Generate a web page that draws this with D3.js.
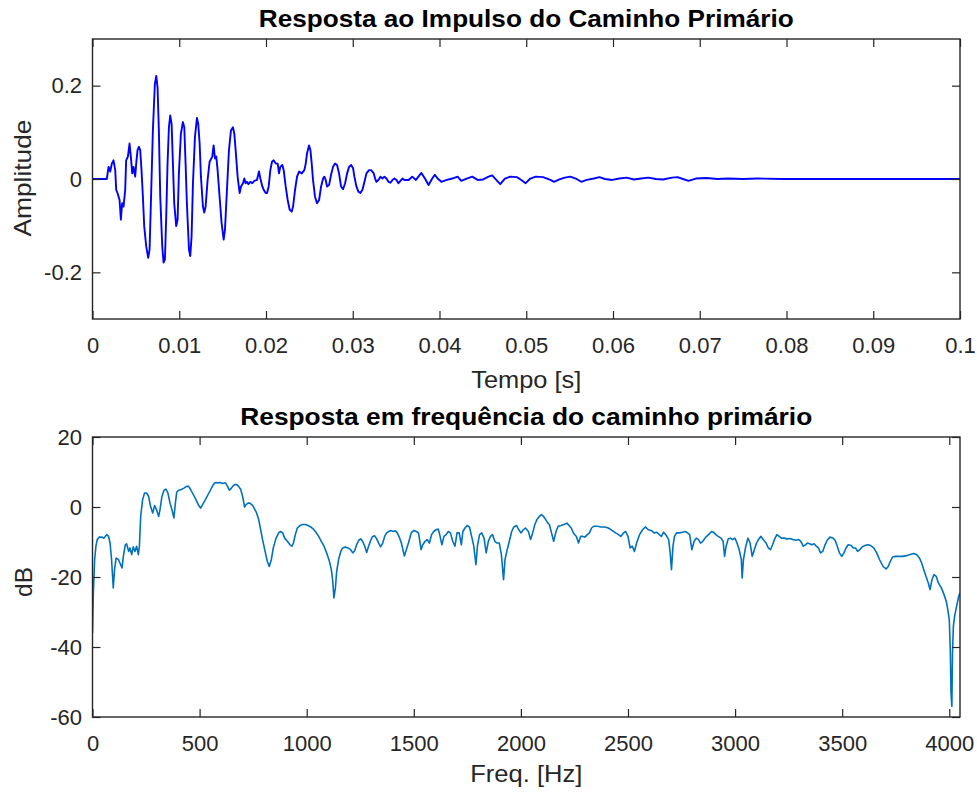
<!DOCTYPE html>
<html>
<head>
<meta charset="utf-8">
<script src="https://cdn.jsdelivr.net/npm/d3@7"></script>
<style>
  body { margin: 0; background: #fff; }
  svg { display: block; background: #fff; }
  text { font-family: "Liberation Sans", Arial, Helvetica, sans-serif; }
</style>
</head>
<body>
<svg id="fig" width="977" height="795"></svg>
<script>
// Impulse response of the primary path: [time in ms, amplitude]
const impulseResponse = [
  [0, 0], [1.65, 0], [1.85, 0.026], [2.04, 0.016], [2.23, 0.033], [2.42, 0.040], [2.62, 0.019],
  [2.73, -0.023], [2.88, -0.030], [3.12, -0.045], [3.27, -0.087], [3.42, -0.052], [3.58, -0.059],
  [3.77, -0.023], [3.88, 0.040], [4.08, 0.048], [4.27, 0.076], [4.42, 0.048], [4.58, 0.012],
  [4.73, 0.026], [4.92, 0.005], [5.04, 0.033], [5.19, 0.062], [5.35, 0.069], [5.50, 0.062],
  [5.65, 0.019], [5.81, -0.038], [5.96, -0.101], [6.19, -0.144], [6.42, -0.169], [6.58, -0.151],
  [6.73, -0.052], [6.96, 0.104], [7.19, 0.204], [7.35, 0.221], [7.50, 0.196], [7.65, 0.104],
  [7.81, -0.038], [8.04, -0.144], [8.19, -0.179], [8.35, -0.172], [8.50, -0.080], [8.65, 0.033],
  [8.81, 0.111], [8.96, 0.136], [9.12, 0.118], [9.27, 0.033], [9.42, -0.052], [9.65, -0.101],
  [9.81, -0.087], [9.96, 0.012], [10.19, 0.097], [10.42, 0.122], [10.58, 0.111], [10.73, 0.033],
  [10.88, -0.052], [11.12, -0.151], [11.27, -0.165], [11.42, -0.123], [11.58, -0.009], [11.81, 0.090],
  [12.04, 0.131], [12.19, 0.118], [12.35, 0.076], [12.50, 0.005], [12.73, -0.059], [12.88, -0.072],
  [13.04, -0.059], [13.27, -0.002], [13.50, 0.037], [13.81, 0.048], [13.96, 0.072], [14.12, 0.044],
  [14.27, 0.048], [14.42, 0.019], [14.65, -0.038], [14.88, -0.094], [15.12, -0.130], [15.27, -0.109],
  [15.50, -0.023], [15.73, 0.062], [15.96, 0.104], [16.19, 0.111], [16.35, 0.097], [16.50, 0.062],
  [16.73, 0.005], [16.96, -0.030], [17.12, -0.016], [17.35, -0.009], [17.50, 0.001], [17.65, -0.009],
  [17.81, -0.006], [17.96, -0.011], [18.19, -0.006], [18.42, -0.009], [18.65, -0.004], [18.96, -0.002],
  [19.19, 0.016], [19.35, 0.001], [19.58, -0.016], [19.73, -0.023], [19.96, -0.030], [20.12, -0.030],
  [20.31, -0.016], [20.50, 0.019], [20.69, 0.037], [20.88, 0.040], [21.12, 0.033], [21.35, 0.033],
  [21.50, 0.012], [21.65, 0.026], [21.88, 0.030], [22.04, 0.019], [22.27, -0.016], [22.50, -0.045],
  [22.73, -0.066], [22.96, -0.070], [23.12, -0.059], [23.35, -0.023], [23.58, 0.005], [23.81, 0.016],
  [24.12, 0.012], [24.42, 0.019], [24.58, 0.033], [24.73, 0.055], [24.96, 0.072], [25.12, 0.062],
  [25.27, 0.033], [25.42, -0.002], [25.65, -0.038], [25.88, -0.052], [26.12, -0.045], [26.35, -0.016],
  [26.58, 0.001], [26.73, 0.005], [26.88, -0.002], [27.04, -0.016], [27.27, -0.013], [27.50, 0.009],
  [27.73, 0.026], [27.96, 0.033], [28.19, 0.030], [28.42, 0.012], [28.65, -0.016], [28.88, -0.022],
  [29.12, -0.009], [29.35, 0.012], [29.58, 0.026], [29.81, 0.030], [30.04, 0.023], [30.19, 0.005],
  [30.42, -0.016], [30.65, -0.027], [30.88, -0.030], [31.12, -0.023], [31.35, -0.006], [31.58, 0.012],
  [31.88, 0.019], [32.12, 0.019], [32.42, 0.012], [32.58, 0.001], [32.73, -0.006], [32.96, -0.002],
  [33.19, 0.005], [33.42, 0.001], [33.65, 0.005], [33.88, 0.001], [34.12, -0.006], [34.35, -0.008],
  [34.58, -0.002], [34.81, 0.001], [35.04, -0.002], [35.27, -0.009], [35.50, -0.004], [35.73, 0.001],
  [35.96, -0.002], [36.44, -0.002], [36.86, 0.005], [37.28, -0.002], [37.91, 0.013], [38.32, 0.001],
  [38.74, -0.013], [39.16, 0.001], [39.46, 0.009], [39.79, 0.001], [40.21, -0.006], [40.84, -0.002],
  [41.47, 0.001], [42.09, 0.005], [42.51, -0.004], [43.14, 0.001], [43.77, 0.005], [44.40, -0.002],
  [45.03, -0.001], [45.66, 0.005], [46.07, 0.008], [46.49, -0.001], [47.00, -0.011], [47.54, 0.001],
  [48.17, 0.005], [48.92, 0.004], [49.43, -0.002], [49.93, -0.009], [50.47, 0.001], [51.10, 0.005],
  [51.94, 0.004], [52.78, -0.002], [53.20, -0.006], [53.82, -0.001], [54.45, 0.003], [55.08, 0.005],
  [55.71, 0.001], [56.34, -0.006], [56.97, -0.002], [57.80, 0.001], [58.43, 0.004], [59.06, 0],
  [59.90, -0.002], [60.74, 0.001], [61.57, 0.003], [62.41, -0.001], [63.25, 0.001], [64.09, 0.003],
  [64.93, 0], [65.77, -0.001], [66.81, 0.003], [67.44, 0.004], [68.07, 0], [68.70, -0.004],
  [69.54, 0.001], [70.79, 0.002], [72.05, 0], [73.30, 0.001], [74.98, 0], [76.66, 0.001],
  [79.59, 0], [100, 0]
];

// Magnitude response of the primary path: [frequency in Hz, dB]
const magnitudeResponse = [
  [0, -36.0], [4, -24.6], [10, -15.0], [16, -11.2], [22, -9.3], [32, -8.6], [43, -8.6], [54, -8.9],
  [66, -7.9], [75, -8.4], [82, -10.3], [89, -15.0], [97, -23.1], [103, -17.9], [110, -14.6],
  [121, -15.0], [128, -16.0], [138, -17.4], [144, -14.1], [153, -10.8], [159, -10.5], [169, -12.7],
  [175, -11.7], [183, -13.6], [190, -11.4], [198, -12.7], [206, -11.2], [214, -13.6], [219, -11.2],
  [225, -2.7], [234, 2.1], [243, 4.0], [253, 4.0], [262, 3.0], [271, 0.2], [281, -1.7], [290, 0.4],
  [299, -0.8], [309, -2.7], [315, -0.8], [324, 3.0], [334, 4.8], [343, 5.1], [352, 4.0], [362, 1.1],
  [371, -0.8], [380, -3.1], [387, 1.1], [393, 4.2], [402, 4.8], [415, 5.0], [427, 5.4], [439, 5.9],
  [449, 5.9], [458, 5.0], [471, 3.5], [483, 2.1], [496, 0.4], [505, -0.3], [514, 0.7], [527, 2.1],
  [539, 3.5], [552, 5.0], [564, 6.4], [573, 7.0], [583, 6.9], [595, 7.0], [608, 6.7], [620, 6.9],
  [629, 6.1], [639, 4.8], [645, 5.1], [654, 5.9], [664, 6.4], [673, 6.4], [682, 5.9], [692, 5.0],
  [701, 3.0], [710, 0], [717, 0.7], [726, 1.1], [735, 1.1], [748, 0.4], [757, -0.6], [766, -1.7],
  [776, -3.6], [785, -6.5], [794, -9.3], [804, -12.2], [816, -15.5], [825, -17.0], [835, -15.0],
  [844, -11.7], [857, -8.9], [869, -7.4], [878, -7.0], [888, -7.4], [897, -8.9], [910, -9.8],
  [922, -10.8], [931, -11.2], [938, -10.3], [947, -7.9], [956, -6.0], [969, -5.3], [981, -5.0],
  [994, -5.0], [1006, -5.3], [1019, -5.7], [1031, -6.3], [1043, -7.2], [1056, -8.4], [1068, -9.8],
  [1081, -11.2], [1093, -13.1], [1106, -15.5], [1115, -17.9], [1121, -20.8], [1127, -26.0],
  [1134, -23.1], [1140, -18.4], [1149, -15.0], [1159, -12.7], [1168, -11.7], [1180, -11.4],
  [1193, -11.7], [1205, -12.2], [1215, -13.1], [1224, -12.5], [1233, -10.8], [1243, -9.5],
  [1252, -9.1], [1261, -9.8], [1271, -11.2], [1280, -13.0], [1289, -11.2], [1299, -9.5], [1308, -8.4],
  [1317, -8.2], [1327, -9.1], [1336, -10.3], [1345, -11.4], [1355, -10.3], [1364, -8.4], [1373, -7.4],
  [1383, -7.0], [1392, -6.7], [1404, -7.0], [1414, -6.8], [1423, -7.4], [1432, -8.6], [1442, -10.3],
  [1456, -14.0], [1475, -10.3], [1488, -7.4], [1500, -6.7], [1512, -7.0], [1522, -7.4], [1534, -12.2],
  [1542, -10.8], [1553, -9.8], [1563, -9.3], [1573, -10.3], [1583, -7.9], [1593, -7.0], [1604, -6.5],
  [1614, -6.3], [1621, -7.9], [1631, -10.8], [1641, -8.4], [1651, -7.9], [1661, -7.0], [1671, -7.4],
  [1682, -9.8], [1692, -11.2], [1702, -7.4], [1712, -7.4], [1722, -10.8], [1729, -7.0], [1739, -6.0],
  [1749, -5.3], [1760, -5.7], [1770, -8.4], [1780, -11.2], [1790, -16.5], [1797, -11.2], [1807, -7.9],
  [1817, -7.4], [1828, -8.9], [1838, -13.1], [1848, -9.8], [1858, -8.4], [1868, -7.9], [1878, -9.8],
  [1889, -10.3], [1899, -10.3], [1909, -13.6], [1919, -20.8], [1926, -15.0], [1936, -12.2],
  [1946, -9.8], [1957, -7.0], [1967, -5.7], [1980, -5.3], [1990, -6.5], [2001, -7.4], [2011, -6.5],
  [2021, -6.0], [2035, -7.0], [2045, -9.3], [2055, -7.4], [2065, -5.0], [2075, -3.6], [2086, -2.7],
  [2096, -2.2], [2106, -2.7], [2116, -3.6], [2126, -4.6], [2133, -5.0], [2143, -7.4], [2153, -9.8],
  [2164, -7.0], [2174, -5.5], [2187, -5.3], [2201, -5.0], [2215, -4.6], [2225, -5.3], [2235, -6.0],
  [2245, -7.4], [2259, -8.4], [2269, -10.3], [2279, -8.4], [2289, -8.4], [2299, -8.6], [2310, -7.9],
  [2320, -7.4], [2330, -6.0], [2340, -5.5], [2357, -5.5], [2374, -5.7], [2391, -5.7], [2408, -6.0],
  [2425, -6.7], [2442, -7.4], [2456, -7.9], [2466, -8.4], [2479, -7.4], [2489, -7.0], [2500, -8.4],
  [2510, -11.7], [2520, -11.2], [2530, -12.7], [2540, -10.3], [2554, -7.9], [2568, -6.5], [2581, -5.7],
  [2595, -6.5], [2608, -6.7], [2622, -7.4], [2635, -7.2], [2646, -7.9], [2656, -8.4], [2666, -7.2],
  [2676, -7.9], [2690, -9.3], [2697, -13.1], [2703, -17.9], [2710, -11.2], [2717, -8.4], [2727, -7.4],
  [2741, -7.4], [2754, -7.2], [2768, -7.0], [2778, -7.4], [2788, -7.9], [2798, -12.2], [2809, -9.8],
  [2819, -8.9], [2829, -9.3], [2839, -10.3], [2849, -9.8], [2863, -8.6], [2876, -7.9], [2890, -7.0],
  [2900, -7.2], [2910, -7.9], [2921, -8.4], [2934, -8.9], [2944, -9.8], [2951, -14.1], [2958, -11.2],
  [2968, -9.1], [2978, -8.9], [2988, -9.3], [2999, -8.9], [3009, -10.3], [3019, -12.2], [3029, -15.0],
  [3033, -20.3], [3039, -15.0], [3050, -11.2], [3060, -8.9], [3070, -10.3], [3080, -14.1], [3090, -12.2],
  [3100, -10.3], [3111, -9.1], [3121, -8.4], [3131, -9.3], [3145, -10.3], [3155, -11.7], [3165, -12.2],
  [3175, -10.8], [3185, -9.1], [3195, -7.9], [3206, -8.4], [3216, -8.9], [3229, -8.9], [3243, -9.1],
  [3257, -9.0], [3270, -9.3], [3284, -9.5], [3297, -9.3], [3307, -9.8], [3318, -11.2], [3328, -10.8],
  [3338, -10.3], [3348, -10.5], [3358, -10.8], [3369, -10.5], [3379, -11.2], [3389, -11.7], [3399, -13.1],
  [3409, -12.7], [3420, -10.8], [3430, -9.5], [3443, -8.6], [3457, -8.9], [3467, -9.5], [3477, -11.2],
  [3487, -13.1], [3498, -14.1], [3508, -13.1], [3518, -11.7], [3528, -10.8], [3542, -11.0], [3552, -11.7],
  [3562, -11.7], [3572, -12.7], [3582, -12.2], [3593, -11.4], [3606, -11.0], [3620, -10.8], [3633, -11.0],
  [3647, -11.7], [3661, -13.1], [3674, -15.0], [3691, -17.0], [3705, -17.7], [3715, -17.0], [3725, -15.5],
  [3735, -14.3], [3749, -14.1], [3766, -14.1], [3783, -14.1], [3800, -13.9], [3817, -13.6], [3834, -13.3],
  [3847, -13.6], [3861, -14.6], [3871, -16.0], [3881, -17.9], [3891, -19.8], [3902, -21.7], [3910, -23.6],
  [3919, -20.8], [3929, -19.3], [3939, -19.8], [3949, -21.7], [3963, -23.1], [3973, -24.6], [3986, -27.0],
  [3993, -29.3], [4000, -32.2], [4005, -41.7], [4008, -53.1], [4012, -57.0], [4015, -41.7], [4019, -34.1],
  [4025, -31.2], [4034, -28.4], [4044, -25.5], [4050, -24.6]
];

// Axis ticks and their labels
const timeTicks = [0, 0.01, 0.02, 0.03, 0.04, 0.05, 0.06, 0.07, 0.08, 0.09, 0.1];
const timeTickLabels = ["0", "0.01", "0.02", "0.03", "0.04", "0.05", "0.06", "0.07", "0.08", "0.09", "0.1"];
const ampTicks = [-0.2, 0, 0.2];
const ampTickLabels = ["-0.2", "0", "0.2"];
const freqTicks = [0, 500, 1000, 1500, 2000, 2500, 3000, 3500, 4000];
const freqTickLabels = ["0", "500", "1000", "1500", "2000", "2500", "3000", "3500", "4000"];
const dbTicks = [-60, -40, -20, 0, 20];
const dbTickLabels = ["-60", "-40", "-20", "0", "20"];

const svg = d3.select("#fig");
const AXIS_COLOR = "#262626";
const TICK_LEN = 8;

function drawPanel(cfg) {
  const x = d3.scaleLinear().domain(cfg.xDomain).range([cfg.left, cfg.right]);
  const y = d3.scaleLinear().domain(cfg.yDomain).range([cfg.bottom, cfg.top]);
  const g = svg.append("g");

  const clipId = "clip-" + cfg.id;
  svg.append("clipPath").attr("id", clipId)
    .append("rect")
    .attr("x", cfg.left).attr("y", cfg.top)
    .attr("width", cfg.right - cfg.left).attr("height", cfg.bottom - cfg.top);

  const line = d3.line().x(d => x(cfg.xValue(d))).y(d => y(d[1]));
  g.append("path")
    .datum(cfg.data)
    .attr("clip-path", `url(#${clipId})`)
    .attr("fill", "none")
    .attr("stroke", cfg.color)
    .attr("stroke-width", cfg.lineWidth)
    .attr("stroke-linejoin", "round")
    .attr("d", line);

  const styleAxis = sel => {
    sel.select(".domain").remove();
    sel.selectAll(".tick line").attr("stroke", AXIS_COLOR).attr("stroke-width", 1.2);
    sel.selectAll(".tick text")
      .attr("fill", AXIS_COLOR)
      .style("font-size", "22px");
  };

  g.append("g").attr("transform", `translate(0,${cfg.bottom})`)
    .call(d3.axisBottom(x).tickValues(cfg.xTicks).tickFormat((d, i) => cfg.xTickLabels[i])
      .tickSizeInner(-TICK_LEN).tickSizeOuter(0).tickPadding(18.4))
    .call(styleAxis);
  g.append("g").attr("transform", `translate(0,${cfg.top})`)
    .call(d3.axisTop(x).tickValues(cfg.xTicks).tickFormat("")
      .tickSizeInner(-TICK_LEN).tickSizeOuter(0))
    .call(styleAxis);
  g.append("g").attr("transform", `translate(${cfg.left},0)`)
    .call(d3.axisLeft(y).tickValues(cfg.yTicks).tickFormat((d, i) => cfg.yTickLabels[i])
      .tickSizeInner(-TICK_LEN).tickSizeOuter(0).tickPadding(10.5))
    .call(styleAxis);
  g.append("g").attr("transform", `translate(${cfg.right},0)`)
    .call(d3.axisRight(y).tickValues(cfg.yTicks).tickFormat("")
      .tickSizeInner(-TICK_LEN).tickSizeOuter(0))
    .call(styleAxis);

  // Box around the plot area
  g.append("rect")
    .attr("x", cfg.left).attr("y", cfg.top)
    .attr("width", cfg.right - cfg.left).attr("height", cfg.bottom - cfg.top)
    .attr("fill", "none").attr("stroke", AXIS_COLOR).attr("stroke-width", 1.4);

  const cx = (cfg.left + cfg.right) / 2;
  g.append("text")
    .attr("x", cx).attr("y", cfg.titleY)
    .attr("text-anchor", "middle")
    .attr("textLength", cfg.titleLen).attr("lengthAdjust", "spacingAndGlyphs")
    .style("font-size", "24px").style("font-weight", "bold")
    .attr("fill", "#000")
    .text(cfg.title);

  g.append("text")
    .attr("x", cx).attr("y", cfg.xLabelY)
    .attr("text-anchor", "middle")
    .attr("textLength", cfg.xLabelLen).attr("lengthAdjust", "spacingAndGlyphs")
    .style("font-size", "24px")
    .attr("fill", AXIS_COLOR)
    .text(cfg.xLabel);

  g.append("text")
    .attr("transform", `translate(${cfg.yLabelX},${cfg.yLabelCY}) rotate(-90)`)
    .attr("text-anchor", "middle")
    .attr("textLength", cfg.yLabelLen).attr("lengthAdjust", "spacingAndGlyphs")
    .style("font-size", "24px")
    .attr("fill", AXIS_COLOR)
    .text(cfg.yLabel);
}

drawPanel({
  id: "impulse",
  left: 92.5, right: 960, top: 39, bottom: 319,
  xDomain: [0, 0.1], yDomain: [-0.3, 0.3],
  xTicks: timeTicks, xTickLabels: timeTickLabels,
  yTicks: ampTicks, yTickLabels: ampTickLabels,
  data: impulseResponse, xValue: d => d[0] / 1000,
  color: "#0000ff", lineWidth: 1.9,
  title: "Resposta ao Impulso do Caminho Primário", titleY: 26.5, titleLen: 535,
  xLabel: "Tempo [s]", xLabelY: 388, xLabelLen: 110,
  yLabel: "Amplitude", yLabelX: 31, yLabelCY: 178, yLabelLen: 117
});

drawPanel({
  id: "magnitude",
  left: 92.5, right: 960, top: 437, bottom: 717,
  xDomain: [0, 4050], yDomain: [-60, 20],
  xTicks: freqTicks, xTickLabels: freqTickLabels,
  yTicks: dbTicks, yTickLabels: dbTickLabels,
  data: magnitudeResponse, xValue: d => d[0],
  color: "#0072bd", lineWidth: 1.6,
  title: "Resposta em frequência do caminho primário", titleY: 425, titleLen: 572,
  xLabel: "Freq. [Hz]", xLabelY: 782, xLabelLen: 112,
  yLabel: "dB", yLabelX: 32, yLabelCY: 582, yLabelLen: 30
});
</script>
</body>
</html>
